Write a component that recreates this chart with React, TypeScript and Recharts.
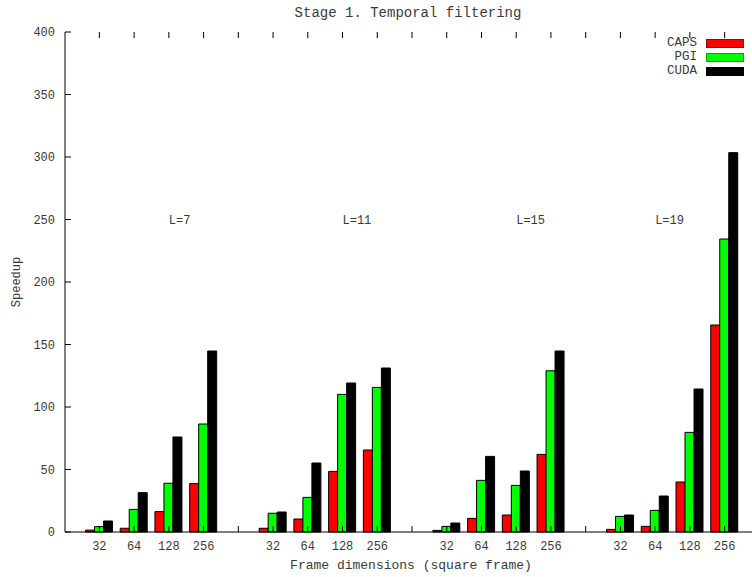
import { Bar, BarChart, ReferenceDot, XAxis, YAxis } from "recharts";

const groupLabels = ["L=7", "L=11", "L=15", "L=19"];
const frameSizes = ["32", "64", "128", "256"];
// where each group label starts (size slot inside its group)
const labelAnchor = ["128", "128", "128", "64"];

const seriesNames = ["CAPS", "PGI", "CUDA"];
const seriesColors = ["#ff0000", "#00ff00", "#000000"];

const capsValues = [
  [1.5, 3, 16.3, 38.7],
  [3, 10.4, 48.5, 65.6],
  [1.3, 10.9, 13.6, 62.1],
  [2.1, 4.5, 40, 165.6],
];
const pgiValues = [
  [4.3, 18.1, 39, 86.4],
  [15, 27.7, 110.1, 115.7],
  [4.5, 41.3, 37.3, 129],
  [12.5, 17.3, 79.7, 234.4],
];
const cudaValues = [
  [8.8, 31.5, 76, 144.8],
  [16, 55.2, 119.2, 131.2],
  [7.2, 60.5, 48.8, 144.8],
  [13.6, 28.8, 114.4, 303.5],
];

const yTicks = [0, 50, 100, 150, 200, 250, 300, 350, 400];

type Row = {
  key: string;
  size: string;
  CAPS?: number;
  PGI?: number;
  CUDA?: number;
};

const rows: Row[] = [];
groupLabels.forEach((_, g) => {
  frameSizes.forEach((size, i) => {
    rows.push({
      key: `${g}-${size}`,
      size,
      CAPS: capsValues[g][i],
      PGI: pgiValues[g][i],
      CUDA: cudaValues[g][i],
    });
  });
  if (g < groupLabels.length - 1) rows.push({ key: `gap-${g}`, size: "" });
});

const sizeOf = (key: string) => rows.find((r) => r.key === key)?.size ?? "";

const FONT = "'Liberation Mono', 'DejaVu Sans Mono', monospace";
const TEXT = "#3a3a3a";
const TICK = 6;
const PLOT_H = 500; // 577 - 32 top - 45 x axis

const YTick = ({ x, y, payload }: any) => (
  <g>
    <line x1={x + 10} x2={x + 10 + TICK} y1={y} y2={y} stroke="#000" />
    <text x={x} y={y + 4} textAnchor="end" fontFamily={FONT} fontSize={12} fill={TEXT}>
      {payload.value}
    </text>
  </g>
);

// inward tick on the bottom axis, mirrored one on the top border
const BottomTick = ({ x, y, payload }: any) => (
  <g>
    <line x1={x} x2={x} y1={y} y2={y - TICK} stroke="#000" />
    <line x1={x} x2={x} y1={y - PLOT_H} y2={y - PLOT_H + TICK} stroke="#000" />
    <text x={x} y={y + 18} textAnchor="middle" fontFamily={FONT} fontSize={12} fill={TEXT}>
      {sizeOf(payload.value)}
    </text>
  </g>
);

export default function App() {
  return (
    <div
      style={{
        position: "fixed",
        left: 0,
        top: 0,
        width: 752,
        height: 577,
        overflow: "hidden",
        background: "#fff",
        fontFamily: FONT,
        color: TEXT,
      }}
    >
      <div style={{ position: "absolute", left: 408, top: 5, transform: "translateX(-50%)", fontSize: 14, whiteSpace: "nowrap" }}>
        Stage 1. Temporal filtering
      </div>
      <div style={{ position: "absolute", left: 411, top: 558, transform: "translateX(-50%)", fontSize: 13, whiteSpace: "nowrap" }}>
        Frame dimensions (square frame)
      </div>
      <div
        style={{
          position: "absolute",
          left: 17,
          top: 282,
          transform: "translate(-50%, -50%) rotate(-90deg)",
          fontSize: 12,
          whiteSpace: "nowrap",
        }}
      >
        Speedup
      </div>

      <BarChart
        width={800}
        height={577}
        data={rows}
        margin={{ top: 32, right: 41, bottom: 0, left: 0 }}
        barCategoryGap="10%"
        barGap={0}
        style={{ position: "absolute", left: 0, top: 0 }}
      >
        <XAxis
          dataKey="key"
          height={45}
          interval={0}
          tickSize={0}
          tickMargin={0}
          axisLine={{ stroke: "#000" }}
          tickLine={false}
          tick={<BottomTick />}
          padding={{ left: 17, right: 17 }}
        />
        <XAxis
          xAxisId="top"
          orientation="top"
          dataKey="key"
          height={0}
          tick={false}
          tickLine={false}
          axisLine={{ stroke: "#000" }}
          padding={{ left: 17, right: 17 }}
        />
        <YAxis
          width={65}
          domain={[0, 400]}
          ticks={yTicks}
          interval={0}
          tickSize={0}
          tickMargin={10}
          axisLine={{ stroke: "#000" }}
          tickLine={false}
          tick={<YTick />}
        />
        {seriesNames.map((name, i) => (
          <Bar
            key={name}
            dataKey={name}
            fill={seriesColors[i]}
            stroke="#000"
            strokeWidth={1}
            isAnimationActive={false}
          />
        ))}
        {groupLabels.map((label, g) => (
          <ReferenceDot
            key={label}
            x={`${g}-${labelAnchor[g]}`}
            y={250}
            r={0}
            fill="none"
            stroke="none"
            label={(p: any) => (
              <text
                x={p.viewBox.x}
                y={p.viewBox.y + 4}
                textAnchor="start"
                fontFamily={FONT}
                fontSize={12}
                fill={TEXT}
              >
                {label}
              </text>
            )}
          />
        ))}
      </BarChart>

      <div style={{ position: "absolute", left: 620, top: 36, fontSize: 12.5 }}>
        {seriesNames.map((name, i) => (
          <div key={name} style={{ display: "flex", alignItems: "center", height: 14 }}>
            <span style={{ width: 77, textAlign: "right", lineHeight: "14px" }}>{name}</span>
            <span
              style={{
                marginLeft: 9,
                width: 36,
                height: 7,
                background: seriesColors[i],
                border: "1px solid rgba(0,0,0,0.35)",
              }}
            />
          </div>
        ))}
      </div>
    </div>
  );
}
